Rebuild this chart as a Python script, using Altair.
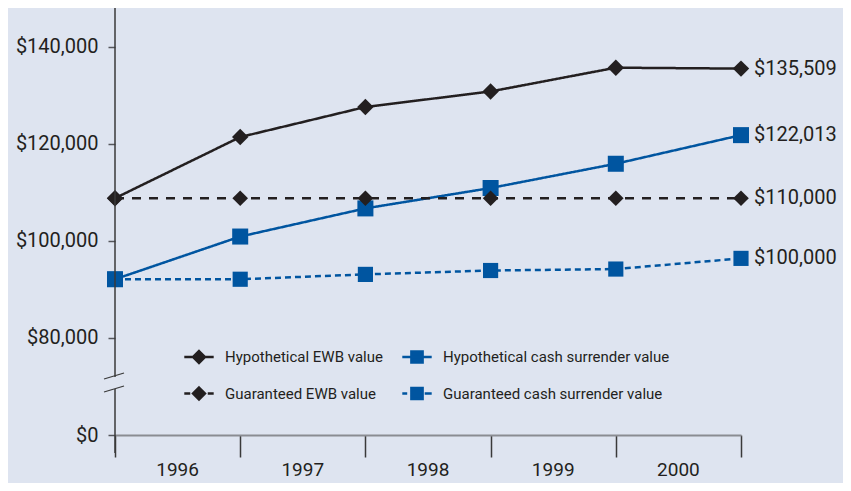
import altair as alt
import pandas as pd

# ---------------- data ----------------
positions = [0, 1, 2, 3, 4, 5]
years = ["1996", "1997", "1998", "1999", "2000"]
year_positions = [0.5, 1.5, 2.5, 3.5, 4.5]

series_names = [
    "Hypothetical EWB value",
    "Hypothetical cash surrender value",
    "Guaranteed EWB value",
    "Guaranteed cash surrender value",
]
hyp_ewb = [108800, 121400, 127600, 130800, 135700, 135509]
hyp_cash = [92100, 100900, 106700, 110900, 115900, 121800]
guar_ewb = [108800, 108800, 108800, 108800, 108800, 108800]
guar_cash = [92100, 92100, 93100, 93900, 94200, 96400]
end_labels = ["$135,509", "$122,013", "$110,000", "$100,000"]

# y axis: the lowest tick stands for $0 below a broken axis
y_ticks = [60000, 80000, 100000, 120000, 140000]
y_domain = [60000, 148000]

# ---------------- styles ----------------
BLACK = "#231f20"
BLUE = "#0055a0"
BG = "#dee4f0"
AXIS_GRAY = "#8a8c92"
FONT = "Roboto"

W, H = 626, 427

rows = []
for name, vals in zip(series_names, [hyp_ewb, hyp_cash, guar_ewb, guar_cash]):
    for p, v in zip(positions, vals):
        rows.append({"series": name, "pos": p, "value": v})
df = pd.DataFrame(rows)

ends = pd.DataFrame({
    "series": series_names,
    "pos": [positions[-1]] * 4,
    "value": [hyp_ewb[-1], hyp_cash[-1], guar_ewb[-1], guar_cash[-1]],
    "label": end_labels,
})
year_df = pd.DataFrame({"pos": year_positions, "year": years})

x_scale = alt.Scale(domain=[positions[0], positions[-1]], nice=False, zero=False)
y_scale = alt.Scale(domain=y_domain, nice=False, zero=False)

x_axis = alt.Axis(
    values=positions, labels=False, title=None, grid=False,
    domainColor=AXIS_GRAY, domainWidth=2, tickColor="#3a3a3a", tickWidth=1.5,
    tickSize=22,
)
zero_label = "$0"
y_axis = alt.Axis(
    values=y_ticks, title=None, grid=False, domain=False,
    tickColor="#55575c", tickWidth=1.5, tickSize=7,
    labelFont=FONT, labelFontSize=20, labelColor=BLACK, labelPadding=10,
    labelExpr=f"datum.value == {y_ticks[0]} ? '{zero_label}' : '$' + format(datum.value, ',')",
)

X = alt.X("pos:Q", scale=x_scale, axis=x_axis)
Y = alt.Y("value:Q", scale=y_scale, axis=y_axis)

colors = [BLACK, BLUE, BLACK, BLUE]
color_scale = alt.Scale(domain=series_names, range=colors)

lines = alt.Chart(df).mark_line(strokeWidth=2.5).encode(
    x=X, y=Y,
    color=alt.Color("series:N", scale=color_scale, legend=None),
    strokeDash=alt.StrokeDash(
        "series:N",
        scale=alt.Scale(domain=series_names, range=[[1, 0], [1, 0], [9, 8], [6, 4]]),
        legend=None,
    ),
)

points = alt.Chart(df).mark_point(filled=True, opacity=1).encode(
    x=X, y=Y,
    color=alt.Color("series:N", scale=color_scale, legend=None),
    shape=alt.Shape(
        "series:N",
        scale=alt.Scale(domain=series_names, range=["diamond", "square", "diamond", "square"]),
        legend=None,
    ),
    size=alt.Size(
        "series:N",
        scale=alt.Scale(domain=series_names, range=[270, 230, 270, 230]),
        legend=None,
    ),
)

# ---------------- legend (2 x 2 grid, line + marker symbols) ----------------
legend_paths = [
    "M-2.1,0H2.1M0,-0.85L0.85,0L0,0.85L-0.85,0Z",
    "M-2.1,0H2.1M-0.8,-0.8H0.8V0.8H-0.8Z",
    "M-2.1,0H-1.25M1.25,0H2.1M0,-0.85L0.85,0L0,0.85L-0.85,0Z",
    "M-2.1,0H-1.4M1.1,0H2.1M-0.8,-0.8H0.8V0.8H-0.8Z",
]
legend_col = [0, 1, 0, 1]
legend_row = [0, 0, 1, 1]
LEG_X0, LEG_DX, LEG_Y0, LEG_DY, LEG_TEXT_DX = 84, 218, 349, 36.5, 26

legend_df = pd.DataFrame({
    "series": series_names, "path": legend_paths, "color": colors,
    "col": legend_col, "row": legend_row,
})
legend_base = alt.Chart(legend_df).transform_calculate(
    px=f"{LEG_X0} + datum.col * {LEG_DX}",
    py=f"{LEG_Y0} + datum.row * {LEG_DY}",
    tx=f"{LEG_X0} + {LEG_TEXT_DX} + datum.col * {LEG_DX}",
)
legend_symbols = legend_base.mark_point(filled=True, opacity=1, size=196, strokeWidth=2.5).encode(
    x=alt.X("px:Q", scale=None),
    y=alt.Y("py:Q", scale=None),
    shape=alt.Shape("path:N", scale=None),
    fill=alt.Fill("color:N", scale=None),
    stroke=alt.Stroke("color:N", scale=None),
)
legend_labels = legend_base.mark_text(
    align="left", baseline="middle", font=FONT, fontSize=15, color=BLACK
).encode(
    x=alt.X("tx:Q", scale=None),
    y=alt.Y("py:Q", scale=None),
    text="series:N",
)

end_text = alt.Chart(ends).mark_text(
    align="left", baseline="middle", dx=13, font=FONT, fontSize=20, color=BLACK
).encode(x=X, y=Y, text="label:N")

year_text = alt.Chart(year_df).mark_text(
    align="center", baseline="middle", font=FONT, fontSize=19, color=BLACK
).encode(x=X, y=alt.value(H + 35), text="year:N")

one = alt.Data(values=[{}])
axis_top = alt.Chart(one).mark_rule(color="#3a3a3a", strokeWidth=1.5).encode(
    x=alt.value(0), y=alt.value(0), y2=alt.value(369)
)
axis_bottom = alt.Chart(one).mark_rule(color="#3a3a3a", strokeWidth=1.5).encode(
    x=alt.value(0), y=alt.value(381), y2=alt.value(H + 18)
)
slash1 = alt.Chart(one).mark_rule(color="#3a3a3a", strokeWidth=1.3).encode(
    x=alt.value(-11), x2=alt.value(9), y=alt.value(371), y2=alt.value(365)
)
slash2 = alt.Chart(one).mark_rule(color="#3a3a3a", strokeWidth=1.3).encode(
    x=alt.value(-11), x2=alt.value(9), y=alt.value(384), y2=alt.value(378)
)

chart = alt.layer(
    lines, points, end_text, year_text, legend_symbols, legend_labels,
    axis_top, axis_bottom, slash1, slash2
).properties(
    width=W, height=H,
    autosize=alt.AutoSizeParams(type="none"),
    padding={"left": 107, "top": 0, "right": 102, "bottom": 48},
).configure(
    background=BG,
).configure_view(stroke=None)

chart.save("out.html", embed_options={"renderer": "svg", "actions": False})
